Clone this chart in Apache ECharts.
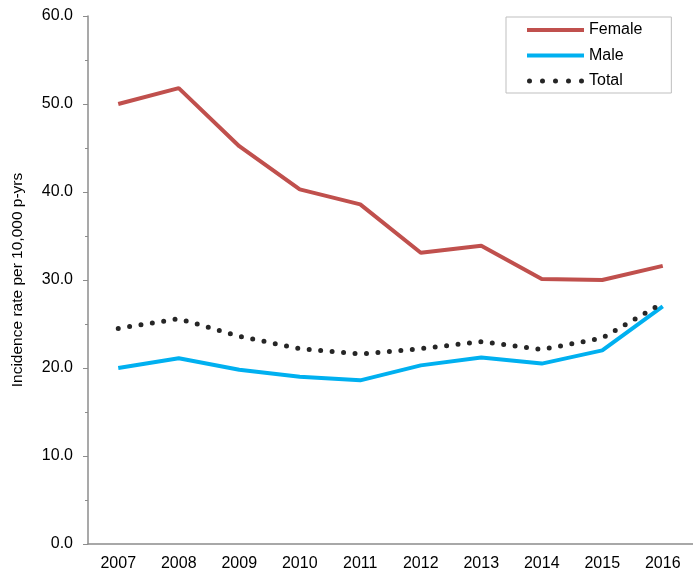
<!DOCTYPE html>
<html>
<head>
<meta charset="utf-8">
<script src="https://cdn.jsdelivr.net/npm/echarts@6/dist/echarts.min.js"></script>
<style>
  html, body { margin: 0; padding: 0; background: #fff; }
  #chart { width: 693px; height: 576px; }
</style>
</head>
<body>
<div id="chart"></div>
<script>
  // data
  var years = ['2007', '2008', '2009', '2010', '2011', '2012', '2013', '2014', '2015', '2016'];
  var female = [50.0, 51.8, 45.2, 40.3, 38.6, 33.1, 33.9, 30.1, 30.0, 31.6];
  var male = [20.0, 21.1, 19.8, 19.0, 18.6, 20.3, 21.2, 20.5, 22.0, 27.0];
  var total = [24.5, 25.6, 23.6, 22.2, 21.6, 22.2, 23.0, 22.1, 23.4, 27.4];

  var axisColor = '#8c8c8c';
  var font = 'Liberation Sans, Arial, sans-serif';

  // legend icons: solid bar and a row of dots
  var barIcon = 'path://M0,0.5 h57 v4 h-57 Z';
  var dotIcon = 'path://' + [2.5, 15.5, 28.5, 41.5, 54.5].map(function (cx) {
    return 'M' + (cx - 2.5) + ',2.5 a2.5,2.5 0 1,0 5,0 a2.5,2.5 0 1,0 -5,0 Z';
  }).join(' ');

  var chart = echarts.init(document.getElementById('chart'));
  var option = {
    animation: false,
    grid: { left: 88, right: 0, top: 16, bottom: 32, outerBoundsMode: 'none' },
    legend: {
      left: 506,
      top: 17,
      orient: 'vertical',
      itemGap: 9.5,
      itemWidth: 57,
      itemHeight: 5,
      padding: [5, 29, 4, 21],
      borderColor: '#bfbfbf',
      borderWidth: 1,
      textStyle: { fontFamily: font, fontSize: 16, color: '#000' },
      data: [
        { name: 'Female', icon: barIcon },
        { name: 'Male', icon: barIcon },
        { name: 'Total', icon: dotIcon }
      ]
    },
    xAxis: {
      type: 'category',
      data: years,
      boundaryGap: true,
      axisLine: { lineStyle: { color: axisColor, width: 1.5 } },
      axisTick: { alignWithLabel: true, length: 4, lineStyle: { color: axisColor } },
      axisLabel: { color: '#000', fontFamily: font, fontSize: 16, margin: 12 }
    },
    yAxis: {
      type: 'value',
      min: 0,
      max: 60,
      interval: 10,
      name: 'Incidence rate per 10,000 p-yrs',
      nameLocation: 'middle',
      nameGap: 62,
      nameTextStyle: { color: '#000', fontFamily: font, fontSize: 15.5 },
      axisLine: { show: true, lineStyle: { color: axisColor, width: 1.5 } },
      axisTick: { show: true, length: 5, lineStyle: { color: axisColor } },
      minorTick: { show: true, splitNumber: 2, length: 3, lineStyle: { color: axisColor } },
      splitLine: { show: false },
      axisLabel: {
        color: '#000', fontFamily: font, fontSize: 16, margin: 15,
        formatter: function (v) { return v.toFixed(1); }
      }
    },
    series: [
      {
        name: 'Female', type: 'line', data: female, symbol: 'none',
        lineStyle: { color: '#c0504d', width: 4 }, itemStyle: { color: '#c0504d' }
      },
      {
        name: 'Male', type: 'line', data: male, symbol: 'none',
        lineStyle: { color: '#00b0f0', width: 4 }, itemStyle: { color: '#00b0f0' }
      },
      {
        name: 'Total', type: 'line', data: total, symbol: 'none',
        lineStyle: { color: '#262626', width: 5, type: [0, 11.5], cap: 'round' },
        itemStyle: { color: '#262626' }
      }
    ]
  };
  chart.setOption(option);
</script>
</body>
</html>
